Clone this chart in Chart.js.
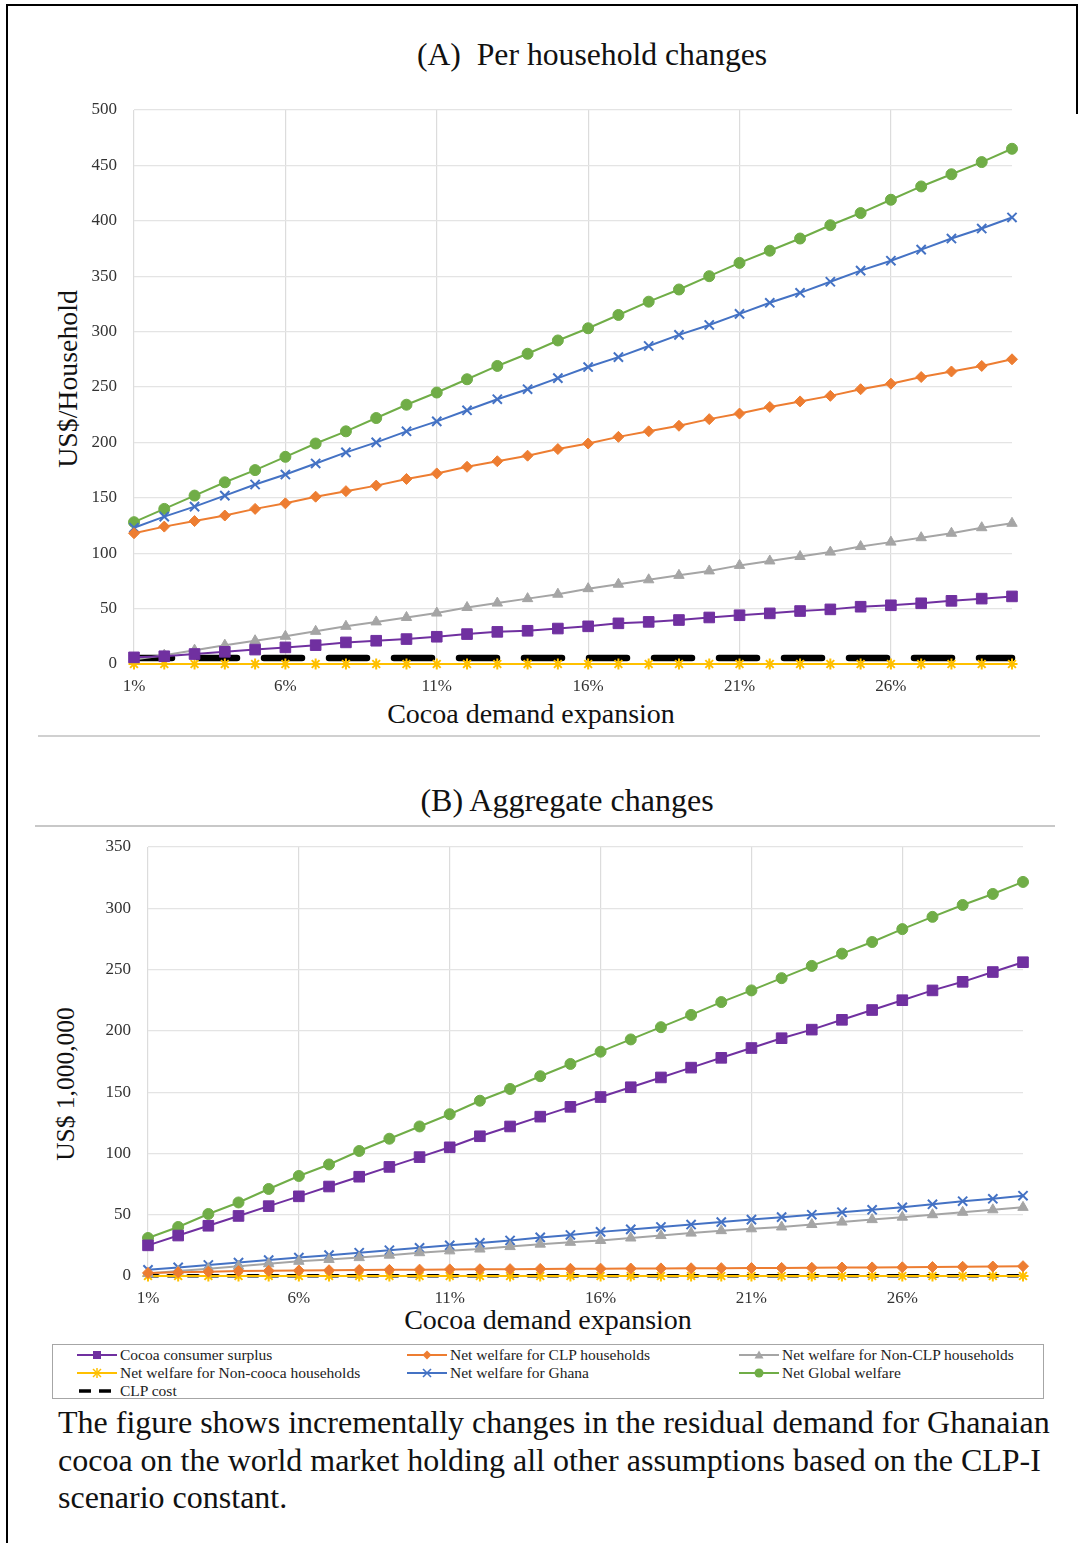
<!DOCTYPE html>
<html>
<head>
<meta charset="utf-8">
<script src="https://cdn.jsdelivr.net/npm/chart.js@4.4.1/dist/chart.umd.min.js"></script>
<style>
  html, body { margin: 0; padding: 0; background: #fff; }
  body { width: 1080px; height: 1543px; position: relative; overflow: hidden; font-family: "Liberation Serif", "Times New Roman", serif; color: #111; }
  .abs { position: absolute; }
  .ttl { position: absolute; white-space: nowrap; transform: translate(-50%, -50%); color: #111; }
  .ytl { position: absolute; white-space: nowrap; transform: translate(-50%, -50%) rotate(-90deg); color: #111; }
  canvas { position: absolute; left: 0; }
  #legend { position: absolute; left: 52px; top: 1344px; width: 992px; height: 55px; border: 1.5px solid #a6a6a6; box-sizing: border-box; }
  .lg { position: absolute; height: 18px; display: flex; align-items: center; font-size: 15.5px; color: #222; white-space: nowrap; }
  .lg svg { margin-right: 3px; }
  #caption { position: absolute; left: 58px; top: 1404px; width: 1012px; font-size: 32px; line-height: 37.5px; color: #111; }
</style>
</head>
<body>
<!-- frame -->
<div class="abs" style="left:6px; top:4px; width:2px; height:1539px; background:#000;"></div>
<div class="abs" style="left:6px; top:4px; width:1072px; height:2px; background:#000;"></div>
<div class="abs" style="left:1076px; top:4px; width:2px; height:110px; background:#000;"></div>

<div class="ttl" style="left:592px; top:55px; font-size:31.7px;">(A)&nbsp; Per household changes</div>
<div class="ytl" style="left:68px; top:379px; font-size:27.8px;">US$/Household</div>
<div class="ttl" style="left:531px; top:714px; font-size:28px;">Cocoa demand expansion</div>
<div class="abs" style="left:38px; top:735px; width:1002px; height:1.5px; background:#d0d0d0;"></div>

<div class="ttl" style="left:567px; top:800px; font-size:32px;">(B) Aggregate changes</div>
<div class="abs" style="left:35px; top:825px; width:1020px; height:2px; background:#c8c8c8;"></div>
<div class="ytl" style="left:66px; top:1084px; font-size:25.5px;">US$ 1,000,000</div>
<div class="ttl" style="left:548px; top:1320px; font-size:28px;">Cocoa demand expansion</div>

<canvas id="chartA" width="1080" height="760" style="top:0;"></canvas>
<canvas id="chartB" width="1080" height="580" style="top:760px;"></canvas>

<div id="legend"></div>
<div id="caption">The figure shows incrementally changes in the residual demand for Ghanaian cocoa on the world market holding all other assumptions based on the CLP-I scenario constant.</div>

<script>
// Cocoa demand expansion steps
const expansion = ['1%','2%','3%','4%','5%','6%','7%','8%','9%','10%','11%','12%','13%','14%','15%',
  '16%','17%','18%','19%','20%','21%','22%','23%','24%','25%','26%','27%','28%','29%','30%'];

const seriesNames = ['Cocoa consumer surplus', 'Net welfare for CLP households', 'Net welfare for Non-CLP households',
  'Net welfare for Non-cooca households', 'Net welfare for Ghana', 'Net Global welfare', 'CLP cost'];

// (A) Per household changes, US$/household
const hhConsumerSurplus = [6,7,9,11,13,15,17,19.5,21,22.5,24.6,27,29,30,32,34,36.7,38,39.7,42,44,45.7,47.8,49.3,51.7,53,54.8,57,59,61];
const hhClp = [118,124,129,134,140,145,151,156,161,167,172,178,183,188,194,199,205,210,215,221,226,232,237,242,248,253,259,264,269,275];
const hhNonClp = [4,8,12.5,17,21,25,29.5,34,38,42,46,51,55,59,63,68,72,76,80,84,89,93,97,101,106,110,114,118,123,127];
const hhNonCocoa = [0,0,0,0,0,0,0,0,0,0,0,0,0,0,0,0,0,0,0,0,0,0,0,0,0,0,0,0,0,0];
const hhGhana = [123,133,142,152,162,171,181,191,200,210,219,229,239,248,258,268,277,287,297,306,316,326,335,345,355,364,374,384,393,403];
const hhGlobal = [128,140,152,164,175,187,199,210,222,234,245,257,269,280,292,303,315,327,338,350,362,373,384,396,407,419,431,442,453,465];
const hhClpCost = [5.4,5.4,5.4,5.4,5.4,5.4,5.4,5.4,5.4,5.4,5.4,5.4,5.4,5.4,5.4,5.4,5.4,5.4,5.4,5.4,5.4,5.4,5.4,5.4,5.4,5.4,5.4,5.4,5.4,5.4];

// (B) Aggregate changes, US$ 1,000,000
const aggConsumerSurplus = [25,33,41,49,57,65,73,81,89,97,105,114,122,130,138,146,154,162,170,178,186,194,201,209,217,225,233,240,248,256];
const aggClp = [2.5,3,3.5,4,4.2,4.5,4.7,4.9,5,5.2,5.4,5.5,5.6,5.8,5.9,6,6.1,6.2,6.3,6.4,6.5,6.6,6.7,6.9,7,7.1,7.3,7.5,7.7,8];
const aggNonClp = [2,4,6,8,10,12,13.5,15,17,19,20.5,22,24,26,27.5,29,31,33,35,37,38.5,40,42,44,46,48,50,52,54,56];
const aggNonCocoa = [0,0,0,0,0,0,0,0,0,0,0,0,0,0,0,0,0,0,0,0,0,0,0,0,0,0,0,0,0,0];
const aggGhana = [5,7,9,11,13,15,17,19,21,23,25,27,29,31.5,33.5,36,38,40,42,44,46,48,50,52,54,56,58.5,61,63,65.5];
const aggGlobal = [31,40,50.6,60,71,81.6,91,102,112,122,132,143,152.6,163,173,183,193,203,213,223.5,233,243,253,263,272.5,283,293,302.7,311.7,321.5];
const aggClpCost = [0.3,0.3,0.3,0.3,0.3,0.3,0.3,0.3,0.3,0.3,0.3,0.3,0.3,0.3,0.3,0.3,0.3,0.3,0.3,0.3,0.3,0.3,0.3,0.3,0.3,0.3,0.3,0.3,0.3,0.3];

// y-axis ticks
const hhTicks = { min: 0, max: 500, step: 50 };
const aggTicks = { min: 0, max: 350, step: 50 };

const colors = ['#7030A0', '#ED7D31', '#A5A5A5', '#FFC000', '#4472C4', '#70AD47', '#000000'];
const markers = ['rect', 'rectRot', 'triangle', 'star', 'crossRot', 'circle', false];
const markerRadius = [7.5, 5.5, 6, 5.5, 6.5, 5.5, 0];

function buildDatasets(values, dashed) {
  return values.map((v, i) => {
    const isCost = i === 6;
    return {
      label: seriesNames[i],
      data: v,
      borderColor: colors[i],
      backgroundColor: colors[i],
      borderWidth: isCost ? dashed.width : 2,
      borderDash: isCost ? dashed.dash : [],
      borderCapStyle: isCost ? 'round' : 'butt',
      pointStyle: markers[i],
      pointRadius: markerRadius[i],
      pointBorderWidth: markers[i] === 'star' || markers[i] === 'crossRot' ? 2 : 1,
      pointHoverRadius: markerRadius[i],
      tension: 0,
      fill: false,
      clip: 12
    };
  });
}

function makeOptions(ticks, yWidth, xHeight, pad) {
  return {
    responsive: false,
    animation: false,
    devicePixelRatio: 1,
    layout: { padding: pad },
    plugins: { legend: { display: false }, tooltip: { enabled: false } },
    scales: {
      x: {
        type: 'category',
        offset: false,
        border: { display: false },
        grid: {
          drawTicks: false,
          color: ctx => (ctx.index % 5 === 0 ? '#dcdcdc' : 'rgba(0,0,0,0)'),
          lineWidth: 1.2
        },
        ticks: {
          autoSkip: false,
          maxRotation: 0,
          padding: 12,
          color: '#333',
          font: { family: 'Liberation Serif', size: 17 },
          callback: (val, idx) => (idx % 5 === 0 ? expansion[idx] : '')
        },
        afterFit: s => { s.height = xHeight; }
      },
      y: {
        min: ticks.min,
        max: ticks.max,
        border: { display: false },
        grid: { drawTicks: false, color: '#e4e4e4', lineWidth: 1.2 },
        ticks: {
          stepSize: ticks.step,
          padding: 17,
          color: '#333',
          font: { family: 'Liberation Serif', size: 17 }
        },
        afterFit: s => { s.width = yWidth; }
      }
    }
  };
}

new Chart(document.getElementById('chartA'), {
  type: 'line',
  data: {
    labels: expansion,
    datasets: buildDatasets(
      [hhConsumerSurplus, hhClp, hhNonClp, hhNonCocoa, hhGhana, hhGlobal, hhClpCost],
      { width: 6.5, dash: [38, 27] })
  },
  options: makeOptions(hhTicks, 134, 96, { left: 0, right: 68, top: 110, bottom: 0 })
});

new Chart(document.getElementById('chartB'), {
  type: 'line',
  data: {
    labels: expansion,
    datasets: buildDatasets(
      [aggConsumerSurplus, aggClp, aggNonClp, aggNonCocoa, aggGhana, aggGlobal, aggClpCost],
      { width: 3.5, dash: [10, 10] })
  },
  options: makeOptions(aggTicks, 148, 64, { left: 0, right: 57, top: 87, bottom: 0 })
});

// Legend: line + marker swatches in three columns
function markerSvg(style, color) {
  const cx = 20, cy = 9;
  switch (style) {
    case 'rect': return `<rect x="${cx-4}" y="${cy-4}" width="8" height="8" fill="${color}"/>`;
    case 'rectRot': return `<polygon points="${cx},${cy-4.5} ${cx+4.5},${cy} ${cx},${cy+4.5} ${cx-4.5},${cy}" fill="${color}"/>`;
    case 'triangle': return `<polygon points="${cx},${cy-4.5} ${cx+4.5},${cy+3.5} ${cx-4.5},${cy+3.5}" fill="${color}"/>`;
    case 'star': return `<g stroke="${color}" stroke-width="1.5"><line x1="${cx-4}" y1="${cy-4}" x2="${cx+4}" y2="${cy+4}"/><line x1="${cx-4}" y1="${cy+4}" x2="${cx+4}" y2="${cy-4}"/><line x1="${cx}" y1="${cy-5}" x2="${cx}" y2="${cy+5}"/></g>`;
    case 'crossRot': return `<g stroke="${color}" stroke-width="1.6"><line x1="${cx-4}" y1="${cy-4}" x2="${cx+4}" y2="${cy+4}"/><line x1="${cx-4}" y1="${cy+4}" x2="${cx+4}" y2="${cy-4}"/></g>`;
    case 'circle': return `<circle cx="${cx}" cy="${cy}" r="4.5" fill="${color}"/>`;
    default: return '';
  }
}
const legendEl = document.getElementById('legend');
const colX = [24, 354, 686];
const rowY = [1, 19, 37];
seriesNames.forEach((name, i) => {
  const col = i % 3, row = Math.floor(i / 3);
  const isCost = i === 6;
  const line = isCost
    ? `<line x1="2" y1="9" x2="38" y2="9" stroke="#000" stroke-width="3.5" stroke-dasharray="12 8"/>`
    : `<line x1="0" y1="9" x2="40" y2="9" stroke="${colors[i]}" stroke-width="2"/>`;
  const div = document.createElement('div');
  div.className = 'lg';
  div.style.left = colX[col] + 'px';
  div.style.top = rowY[row] + 'px';
  div.innerHTML = `<svg width="40" height="18">${line}${markerSvg(markers[i], colors[i])}</svg><span>${name}</span>`;
  legendEl.appendChild(div);
});
</script>
</body>
</html>
